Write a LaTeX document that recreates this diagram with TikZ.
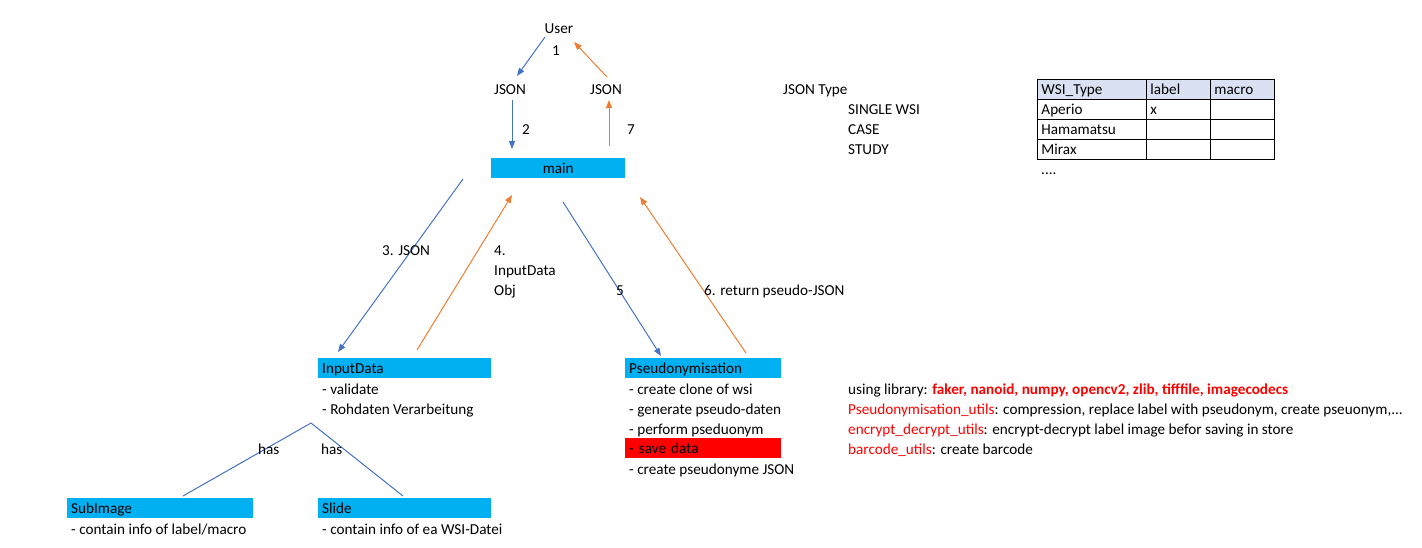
\documentclass[tikz,border=0pt]{standalone}
\usepackage{fontspec}
\setmainfont{Carlito}
\usetikzlibrary{arrows.meta}
\definecolor{boxcyan}{HTML}{00B0F0}
\definecolor{ablue}{HTML}{4472C4}
\definecolor{aorange}{HTML}{ED7D31}
\definecolor{hdr}{HTML}{D9E1F2}
\definecolor{xred}{HTML}{FF0000}
\tikzset{
  txt/.style={anchor=base west, inner sep=0pt},
  ctxt/.style={anchor=base, inner sep=0pt},
  cbox/.style={fill=boxcyan, anchor=north west, minimum height=20, text height=10, text depth=0,
    inner ysep=0pt, inner xsep=4pt, align=left, text width=#1-8},
  rbox/.style={fill=xred, anchor=north west, minimum height=20, text height=10, text depth=0,
    inner ysep=0pt, inner xsep=4pt, align=left, text width=#1-8},
  cell/.style={draw=black, line width=0.9pt, anchor=north west, minimum height=20, text height=10, text depth=0,
    inner ysep=0pt, inner xsep=4pt, align=left, text width=#1-8},
  barrow/.style={draw=ablue, line width=1pt, -{Triangle[length=8,width=6]}},
  oarrow/.style={draw=aorange, line width=1pt, -{Triangle[length=8,width=6]}},
  bline/.style={draw=ablue, line width=1pt},
}
\begin{document}
\begin{tikzpicture}[x=1pt,y=-1pt,font=\fontsize{15.2}{20}\selectfont]
\useasboundingbox (0,0) rectangle (1422,547);
% top
\node[ctxt] (user) at (559,33) {User};
\node[ctxt] (n1) at (556,55) {1};
\node[ctxt] (jsonl) at (510,94) {JSON};
\node[ctxt] (jsonr) at (606,94) {JSON};
\node[ctxt] (n2) at (526,134) {2};
\node[ctxt] (n7) at (631,134) {7};
\node[cbox=134, align=center] (main) at (491,158) {main};
% coordinates for arrow ends
\coordinate (u1) at (545,37);
\coordinate (u2) at (517,76);
\coordinate (u3) at (607,77);
\coordinate (u4) at (574,42);
\coordinate (j1) at (512,100);
\coordinate (j2) at (512,149);
\coordinate (j3) at (609,146);
\coordinate (j4) at (609,100);
\draw[barrow] (u1) -- (u2);
\draw[oarrow] (u3) -- (u4);
\draw[barrow] (j1) -- (j2);
\draw[oarrow] (j3) -- (j4);
% boxes
\node[cbox=173] (inp) at (318,358) {InputData};
\node[txt] (inp1) at (322,394) {- validate};
\node[txt] (inp2) at (322,414) {- Rohdaten Verarbeitung};
\node[cbox=156] (pse) at (625,358) {Pseudonymisation};
\node[txt] (pse1) at (629,394) {- create clone of wsi};
\node[txt] (pse2) at (629,414) {- generate pseudo-daten};
\node[txt] (pse3) at (629,434) {- perform pseduonym};
\node[rbox=156] (pse4) at (625,438) {- save data};
\node[txt] (pse5) at (629,474) {- create pseudonyme JSON};
\node[cbox=186] (sub) at (67,498) {SubImage};
\node[txt] (sub1) at (71,534) {- contain info of label/macro};
\node[cbox=173] (sli) at (318,498) {Slide};
\node[txt] (sli1) at (322,534) {- contain info of ea WSI-Datei};
% middle arrows
\coordinate (m3a) at (463,179);
\coordinate (m3b) at (338,352);
\coordinate (m4a) at (417,350);
\coordinate (m4b) at (512,195);
\coordinate (m5a) at (563,202);
\coordinate (m5b) at (661,356);
\coordinate (m6a) at (746,353);
\coordinate (m6b) at (640,197);
\draw[barrow] (m3a) -- (m3b);
\draw[oarrow] (m4a) -- (m4b);
\draw[barrow] (m5a) -- (m5b);
\draw[oarrow] (m6a) -- (m6b);
\node[txt] (l3) at (382,255) {3. JSON};
\node[txt] (l4a) at (494,255) {4.};
\node[txt] (l4b) at (494,275) {InputData};
\node[txt] (l4c) at (494,295) {Obj};
\node[txt] (l5) at (616,295) {5};
\node[txt] (l6) at (704,295) {6. return pseudo-JSON};
% has lines
\coordinate (h0) at (311,423);
\coordinate (h1) at (183,496);
\coordinate (h2) at (403,496);
\draw[bline] (h0) -- (h1);
\draw[bline] (h0) -- (h2);
\node[txt] (has1) at (258,454) {has};
\node[txt] (has2) at (321,454) {has};
% JSON type
\node[txt] (jt) at (783,94) {JSON Type};
\node[txt] (jt1) at (848,114) {SINGLE WSI};
\node[txt] (jt2) at (848,134) {CASE};
\node[txt] (jt3) at (848,154) {STUDY};
% table
\node[cell=109, fill=hdr] (t11) at (1037,79) {WSI\_Type};
\node[cell=64, fill=hdr] (t12) at (1146,79) {label};
\node[cell=64, fill=hdr] (t13) at (1210,79) {macro};
\node[cell=109] (t21) at (1037,99) {Aperio};
\node[cell=64] (t22) at (1146,99) {x};
\node[cell=64] (t23) at (1210,99) {};
\node[cell=109] (t31) at (1037,119) {Hamamatsu};
\node[cell=64] (t32) at (1146,119) {};
\node[cell=64] (t33) at (1210,119) {};
\node[cell=109] (t41) at (1037,139) {Mirax};
\node[cell=64] (t42) at (1146,139) {};
\node[cell=64] (t43) at (1210,139) {};
\node[txt] (dots) at (1041,174) {....};
% right texts
\node[txt] (r1) at (848,394) {using library: \textcolor{xred}{\bfseries faker, nanoid, numpy, opencv2, zlib, tifffile, imagecodecs}};
\node[txt] (r2) at (848,414) {\textcolor{xred}{Pseudonymisation\_utils}: compression, replace label with pseudonym, create pseuonym,...};
\node[txt] (r3) at (848,434) {\textcolor{xred}{encrypt\_decrypt\_utils}: encrypt-decrypt label image befor saving in store};
\node[txt] (r4) at (848,454) {\textcolor{xred}{barcode\_utils}: create barcode};
\end{tikzpicture}
\end{document}
